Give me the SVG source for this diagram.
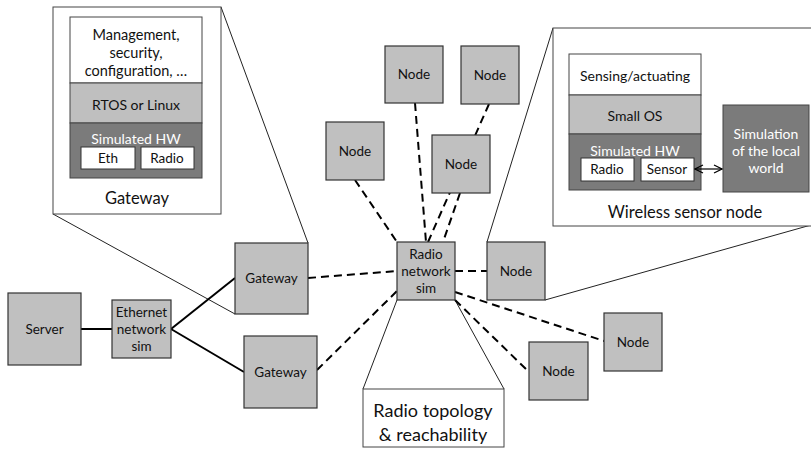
<svg xmlns="http://www.w3.org/2000/svg" width="811" height="453" viewBox="0 0 811 453">
<style>
text{font-family:Lato,"Liberation Sans",sans-serif;fill:#111;text-anchor:middle;dominant-baseline:central}
.node{fill:#c0c0c0;stroke:#333;stroke-width:1.2}
.frame{fill:#fff;stroke:#444;stroke-width:1}
.l1{fill:#fff;stroke:#444;stroke-width:1}
.l2{fill:#bfbfbf;stroke:#444;stroke-width:1}
.l3{fill:#7b7b7b;stroke:#444;stroke-width:1}
.hwbox{fill:#fff;stroke:#333;stroke-width:1}
.wt{fill:#fff}
.t13{font-size:13.5px}
.t14{font-size:14px}
.t15{font-size:14.5px}
.t16{font-size:16.5px}
.t17{font-size:18px}
.solid{stroke:#000;stroke-width:2;fill:none}
.dash{stroke:#000;stroke-width:2;fill:none;stroke-dasharray:8 5}
.thin{stroke:#222;stroke-width:1;fill:none}
</style>
<defs>
<marker id="ah" viewBox="0 0 10 10" refX="9" refY="5" markerWidth="10" markerHeight="10" markerUnits="userSpaceOnUse" orient="auto-start-reverse">
<polyline points="1,1 9,5 1,9" fill="none" stroke="#000" stroke-width="1.2"/>
</marker>
</defs>

<g id="callout-lines">
<line class="thin" x1="221" y1="7" x2="308" y2="243"/>
<line class="thin" x1="53" y1="214" x2="235" y2="314"/>
<line class="thin" x1="553" y1="28" x2="487" y2="242"/>
<line class="thin" x1="811" y1="225" x2="545" y2="300"/>
<line class="thin" x1="397" y1="300" x2="363" y2="389"/>
<line class="thin" x1="455" y1="300" x2="504" y2="389"/>
</g>

<g id="connectors">
<line class="solid" x1="81" y1="329" x2="112" y2="329"/>
<line class="solid" x1="171" y1="329" x2="235" y2="278"/>
<line class="solid" x1="171" y1="329" x2="244" y2="372"/>
<line class="dash" x1="308" y1="278" x2="397" y2="271"/>
<line class="dash" x1="317" y1="370" x2="397" y2="291"/>
<line class="dash" x1="355" y1="180" x2="397" y2="242"/>
<line class="dash" x1="415" y1="103" x2="426" y2="242"/>
<line class="dash" x1="489" y1="104" x2="428" y2="242"/>
<line class="dash" x1="460" y1="193" x2="443" y2="242"/>
<line class="dash" x1="455" y1="271" x2="487" y2="271"/>
<line class="dash" x1="455" y1="292" x2="604" y2="341"/>
<line class="dash" x1="455" y1="300" x2="529" y2="372"/>
</g>

<g id="gateway-detail">
<rect class="frame" x="53" y="7" width="168" height="207"/>
<rect class="l1" x="70" y="17" width="132" height="66"/>
<rect class="l2" x="70" y="83" width="132" height="40"/>
<rect class="l3" x="70" y="123" width="132" height="55"/>
<rect class="hwbox" x="81" y="147" width="54" height="22"/>
<rect class="hwbox" x="141" y="147" width="53" height="22"/>
<text class="t15" x="136" y="34">Management,</text>
<text class="t15" x="136" y="52">security,</text>
<text class="t15" x="136" y="70">configuration, …</text>
<text class="t14" x="136" y="104">RTOS or Linux</text>
<text class="t14 wt" x="136" y="138">Simulated HW</text>
<text class="t13" x="108" y="158">Eth</text>
<text class="t13" x="167" y="158">Radio</text>
<text class="t16" x="137" y="198">Gateway</text>
</g>

<g id="wsn-detail">
<rect class="frame" x="553" y="28" width="260" height="198"/>
<rect class="l1" x="569" y="54" width="132" height="41"/>
<rect class="l2" x="569" y="95" width="132" height="39"/>
<rect class="l3" x="569" y="134" width="132" height="56"/>
<rect class="hwbox" x="581" y="158" width="53" height="23"/>
<rect class="hwbox" x="641" y="158" width="53" height="23"/>
<rect class="l3" x="723" y="105" width="86" height="87"/>
<line x1="695" y1="169" x2="722" y2="169" stroke="#000" stroke-width="1.2" marker-start="url(#ah)" marker-end="url(#ah)"/>
<text class="t14" x="635" y="75">Sensing/actuating</text>
<text class="t14" x="635" y="115">Small OS</text>
<text class="t14 wt" x="635" y="150">Simulated HW</text>
<text class="t13" x="607" y="169">Radio</text>
<text class="t13" x="667" y="169">Sensor</text>
<text class="t14 wt" x="766" y="133">Simulation</text>
<text class="t14 wt" x="766" y="150">of the local</text>
<text class="t14 wt" x="766" y="167">world</text>
<text class="t16" x="685" y="212">Wireless sensor node</text>
</g>

<g id="topology-detail">
<rect class="frame" x="363" y="389" width="141" height="58"/>
<text class="t17" x="433" y="410">Radio topology</text>
<text class="t17" x="433" y="434">&amp; reachability</text>
</g>

<g id="server">
<rect class="node" x="8" y="293" width="73" height="72"/>
<text class="t13" x="44.5" y="329">Server</text>
</g>
<g id="ethernet-sim">
<rect class="node" x="112" y="300" width="59" height="58"/>
<text class="t13" x="141.5" y="312">Ethernet</text>
<text class="t13" x="141.5" y="329">network</text>
<text class="t13" x="141.5" y="346">sim</text>
</g>
<g id="gateway1">
<rect class="node" x="235" y="243" width="73" height="71"/>
<text class="t13" x="271.5" y="278">Gateway</text>
</g>
<g id="gateway2">
<rect class="node" x="244" y="336" width="73" height="72"/>
<text class="t13" x="280.5" y="372">Gateway</text>
</g>
<g id="radio-sim">
<rect class="node" x="397" y="242" width="58" height="58"/>
<text class="t13" x="426" y="254">Radio</text>
<text class="t13" x="426" y="271">network</text>
<text class="t13" x="426" y="288">sim</text>
</g>
<g id="node1">
<rect class="node" x="326" y="122" width="58" height="58"/>
<text class="t13" x="355" y="151">Node</text>
</g>
<g id="node2">
<rect class="node" x="385" y="46" width="58" height="57"/>
<text class="t13" x="414" y="74">Node</text>
</g>
<g id="node3">
<rect class="node" x="461" y="46" width="58" height="58"/>
<text class="t13" x="490" y="75">Node</text>
</g>
<g id="node4">
<rect class="node" x="432" y="135" width="58" height="58"/>
<text class="t13" x="461" y="164">Node</text>
</g>
<g id="node5">
<rect class="node" x="487" y="242" width="58" height="58"/>
<text class="t13" x="516" y="271">Node</text>
</g>
<g id="node6">
<rect class="node" x="604" y="313" width="58" height="58"/>
<text class="t13" x="633" y="342">Node</text>
</g>
<g id="node7">
<rect class="node" x="529" y="342" width="59" height="58"/>
<text class="t13" x="558.5" y="371">Node</text>
</g>
</svg>
